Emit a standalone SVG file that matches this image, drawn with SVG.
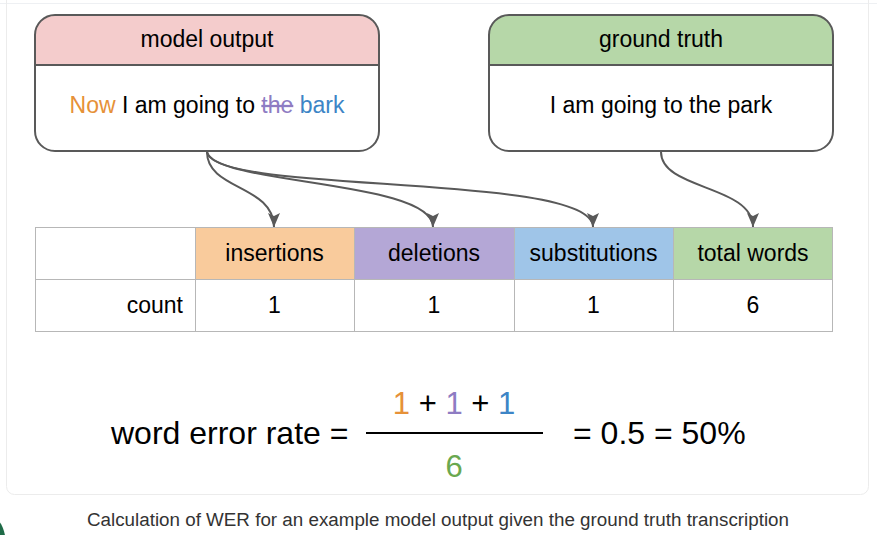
<svg xmlns="http://www.w3.org/2000/svg" width="877" height="535" viewBox="0 0 877 535">
<style>
text{font-family:"Liberation Sans",Arial,sans-serif;}
.t23{font-size:23px;fill:#000;}
.node{fill:none;stroke:#595959;stroke-width:2;}
.sep{stroke:#595959;stroke-width:2;}
.cell{stroke:#b7b7b7;stroke-width:1;}
.conn{fill:none;stroke:#595959;stroke-width:2;}
.f31{font-size:31px;}
.f32{font-size:32px;}
</style>
<defs>
<marker id="ah" markerUnits="userSpaceOnUse" markerWidth="15" markerHeight="15" viewBox="0 0 15 15" refX="14" refY="7.5" orient="auto">
<path d="M0,1.5 L14,7.5 L0,13.5 L3,7.5 Z" fill="#595959"/>
</marker>
</defs>
<rect width="877" height="535" fill="#fff"/>
<line x1="0" y1="3.5" x2="877" y2="3.5" stroke="#eef0f3" stroke-width="1"/>
<rect x="6.5" y="-20" width="862" height="514.5" rx="8" fill="none" stroke="#ececec" stroke-width="1"/>
<ellipse cx="-6" cy="546" rx="12" ry="27" fill="#1f6b48"/>

<g id="model-output">
<rect x="35" y="15" width="344" height="136" rx="20" fill="#fff"/>
<path d="M35,65 V35 A20,20 0 0 1 55,15 H359 A20,20 0 0 1 379,35 V65 Z" fill="#f4cccc"/>
<rect x="35" y="15" width="344" height="136" rx="20" class="node"/>
<line x1="35" y1="65" x2="379" y2="65" class="sep"/>
<text x="207" y="47" text-anchor="middle" class="t23">model output</text>
<text x="207" y="113" text-anchor="middle" class="t23"><tspan fill="#e69138">Now</tspan> I am going to <tspan fill="#8e7cc3" text-decoration="line-through">the</tspan> <tspan fill="#3d85c6">bark</tspan></text>
</g>

<g id="ground-truth">
<rect x="489" y="15" width="344" height="136" rx="20" fill="#fff"/>
<path d="M489,65 V35 A20,20 0 0 1 509,15 H813 A20,20 0 0 1 833,35 V65 Z" fill="#b6d7a8"/>
<rect x="489" y="15" width="344" height="136" rx="20" class="node"/>
<line x1="489" y1="65" x2="833" y2="65" class="sep"/>
<text x="661" y="47" text-anchor="middle" class="t23">ground truth</text>
<text x="661" y="113" text-anchor="middle" class="t23">I am going to the park</text>
</g>

<g id="table">
<rect x="35" y="227" width="160" height="52" fill="#fff"/>
<rect x="195" y="227" width="159" height="52" fill="#f9cb9c"/>
<rect x="354" y="227" width="160" height="52" fill="#b4a7d6"/>
<rect x="514" y="227" width="159" height="52" fill="#9fc5e8"/>
<rect x="673" y="227" width="160" height="52" fill="#b6d7a8"/>
<rect x="35" y="279" width="798" height="52" fill="#fff"/>
<g class="cell">
<line x1="35" y1="227.5" x2="833" y2="227.5"/>
<line x1="35" y1="279.5" x2="833" y2="279.5"/>
<line x1="35" y1="331.5" x2="833" y2="331.5"/>
<line x1="35.5" y1="227" x2="35.5" y2="332"/>
<line x1="195.5" y1="227" x2="195.5" y2="332"/>
<line x1="354.5" y1="227" x2="354.5" y2="332"/>
<line x1="514.5" y1="227" x2="514.5" y2="332"/>
<line x1="673.5" y1="227" x2="673.5" y2="332"/>
<line x1="832.5" y1="227" x2="832.5" y2="332"/>
</g>
<text x="274.5" y="261" text-anchor="middle" class="t23">insertions</text>
<text x="434" y="261" text-anchor="middle" class="t23">deletions</text>
<text x="593.5" y="261" text-anchor="middle" class="t23">substitutions</text>
<text x="753" y="261" text-anchor="middle" class="t23">total words</text>
<text x="183" y="313" text-anchor="end" class="t23">count</text>
<text x="274.5" y="313" text-anchor="middle" class="t23">1</text>
<text x="434" y="313" text-anchor="middle" class="t23">1</text>
<text x="593.5" y="313" text-anchor="middle" class="t23">1</text>
<text x="753" y="313" text-anchor="middle" class="t23">6</text>
</g>

<g id="connectors">
<path class="conn" d="M207,152 C207,190 274,185 274,227" marker-end="url(#ah)"/>
<path class="conn" d="M207,152 C215,185 433,180 433,227" marker-end="url(#ah)"/>
<path class="conn" d="M207,152 C212,195 593,172 593,227" marker-end="url(#ah)"/>
<path class="conn" d="M661,152 C661,190 753,185 753,227" marker-end="url(#ah)"/>
</g>

<g id="formula">
<text x="111" y="444" class="f32" fill="#000">word error rate =</text>
<text x="454" y="414" text-anchor="middle" class="f31" fill="#000"><tspan fill="#e69138">1</tspan> + <tspan fill="#8e7cc3">1</tspan> + <tspan fill="#3d85c6">1</tspan></text>
<line x1="366" y1="433" x2="543" y2="433" stroke="#000" stroke-width="2"/>
<text x="454" y="477" text-anchor="middle" class="f31" fill="#6aa84f">6</text>
<text x="573" y="444" class="f32" fill="#000">= 0.5 = 50%</text>
</g>

<text x="87" y="526" font-size="18" fill="#333" textLength="702" lengthAdjust="spacingAndGlyphs">Calculation of WER for an example model output given the ground truth transcription</text>
</svg>
